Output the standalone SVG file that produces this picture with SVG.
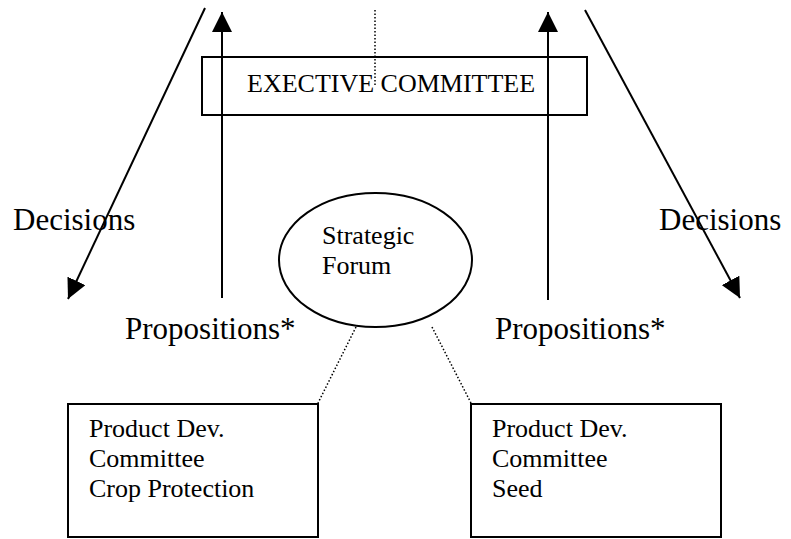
<svg xmlns="http://www.w3.org/2000/svg" width="791" height="539" viewBox="0 0 791 539">
<style>
.box{fill:#fff;stroke:#000;stroke-width:2}
.ln{stroke:#000;stroke-width:2;fill:none}
.dot{stroke:#000;stroke-width:1.5;stroke-dasharray:1.5 2;fill:none}
.s26{font-size:26px}
.s31{font-size:31px}
</style>
<defs>
<marker id="ah" markerUnits="userSpaceOnUse" markerWidth="20" markerHeight="20" viewBox="0 0 20 20" refX="20" refY="10" orient="auto">
<path d="M0,0 L20,10 L0,20 z" fill="#000"/>
</marker>
</defs>
<rect width="791" height="539" fill="#fff"/>
<g font-family="Liberation Serif, Times New Roman, DejaVu Serif, serif" fill="#000">
<g id="exec">
<rect class="box" x="202" y="57" width="385" height="58"/>
<text class="s26" x="247" y="92">EXECTIVE COMMITTEE</text>
</g>
<g id="forum">
<ellipse class="box" cx="375.5" cy="260" rx="96.5" ry="67"/>
<text class="s26" x="322" y="244">Strategic</text>
<text class="s26" x="322" y="274">Forum</text>
</g>
<g id="pdc-crop">
<rect class="box" x="68" y="404" width="250" height="133"/>
<text class="s26" x="89" y="437">Product Dev.</text>
<text class="s26" x="89" y="467">Committee</text>
<text class="s26" x="89" y="497">Crop Protection</text>
</g>
<g id="pdc-seed">
<rect class="box" x="471" y="404" width="250" height="133"/>
<text class="s26" x="492" y="437">Product Dev.</text>
<text class="s26" x="492" y="467">Committee</text>
<text class="s26" x="492" y="497">Seed</text>
</g>
<g id="connectors">
<line class="ln" x1="205" y1="8" x2="68" y2="299" marker-end="url(#ah)"/>
<line class="ln" x1="222" y1="298" x2="222" y2="12" marker-end="url(#ah)"/>
<line class="ln" x1="548" y1="300" x2="548" y2="12" marker-end="url(#ah)"/>
<line class="ln" x1="585" y1="10" x2="740" y2="298" marker-end="url(#ah)"/>
<line class="dot" x1="375" y1="10" x2="375" y2="85"/>
<line class="dot" x1="356" y1="327" x2="318" y2="403"/>
<line class="dot" x1="432" y1="327" x2="471" y2="403"/>
</g>
<g id="labels">
<text class="s31" x="13" y="230">Decisions</text>
<text class="s31" x="659" y="230">Decisions</text>
<text class="s31" x="125" y="339">Propositions*</text>
<text class="s31" x="495" y="339">Propositions*</text>
</g>
</g>
</svg>
